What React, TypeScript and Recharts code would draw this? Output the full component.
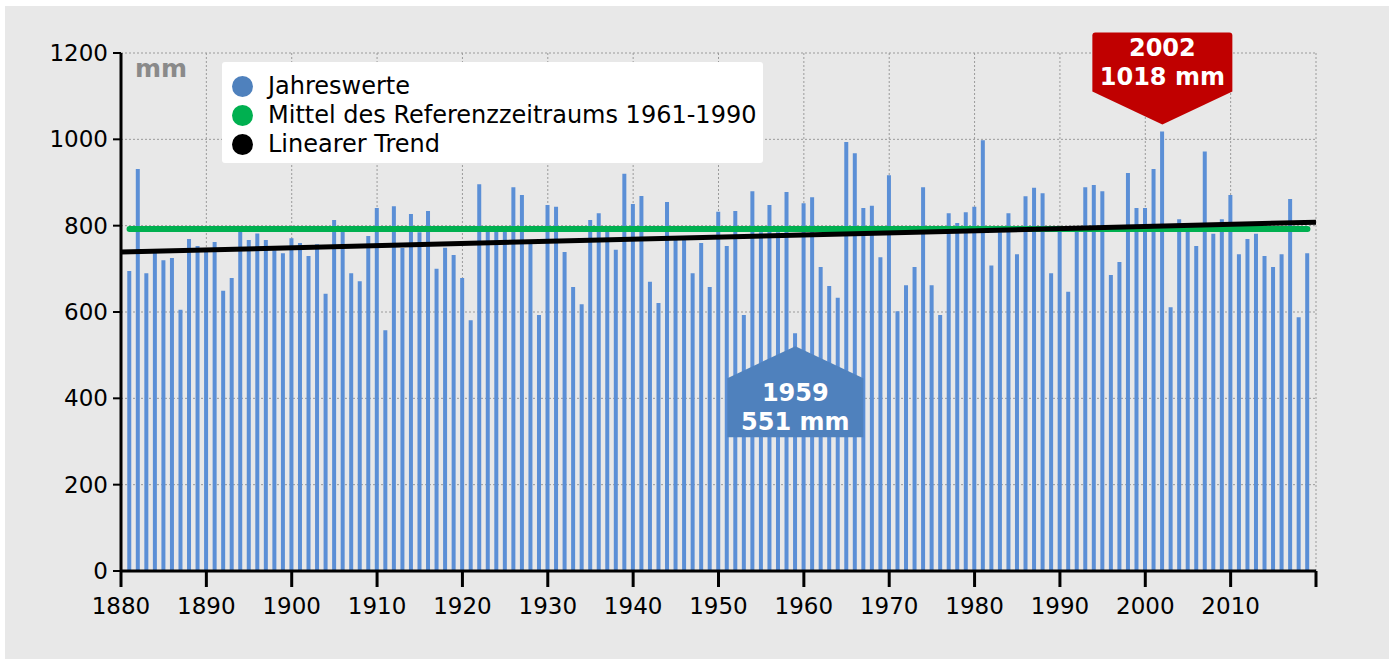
import {
  ComposedChart,
  Bar,
  Line,
  XAxis,
  YAxis,
  CartesianGrid,
  ReferenceLine,
  ReferenceDot,
} from 'recharts';

// yearly precipitation (mm), 1881-2019
const FIRST_YEAR = 1881;
const PRECIP = [
  695, 931, 690, 737, 720, 725, 605, 769, 753, 745,
  762, 649, 679, 787, 767, 782, 767, 743, 736, 771,
  760, 730, 757, 642, 813, 790, 690, 671, 776, 841,
  558, 845, 748, 827, 785, 834, 700, 749, 732, 679,
  581, 896, 787, 787, 787, 889, 871, 760, 593, 848,
  844, 739, 658, 618, 813, 829, 788, 744, 920, 850,
  869, 670, 621, 855, 767, 767, 690, 760, 658, 832,
  753, 834, 593, 880, 785, 848, 785, 878, 551, 852,
  866, 704, 660, 633, 994, 968, 841, 846, 727, 917,
  602, 662, 704, 889, 662, 593, 829, 806, 831, 844,
  998, 708, 785, 829, 734, 868, 888, 875, 690, 790,
  647, 790, 889, 894, 880, 686, 716, 922, 841, 841,
  931, 1018, 611, 815, 790, 753, 972, 781, 815, 871,
  734, 769, 781, 730, 704, 734, 862, 588, 736,
];
const YEARS = PRECIP.map((_, i) => FIRST_YEAR + i);

// mean of reference period 1961-1990
const REF_MEAN = 792;
// linear trend end points
const TREND_YEARS = [1880, 2020];
const TREND_VALUES = [739, 808];

const X_TICKS = [1880, 1890, 1900, 1910, 1920, 1930, 1940, 1950, 1960, 1970, 1980, 1990, 2000, 2010, 2020];
const Y_TICKS = [0, 200, 400, 600, 800, 1000, 1200];

// extremes
const MAX_YEAR = 2002;
const MAX_VALUE = 1018;
const MIN_YEAR = 1959;
const MIN_VALUE = 551;

const LEGEND = [
  { label: 'Jahreswerte', color: '#4f81bd' },
  { label: 'Mittel des Referenzzeitraums 1961-1990', color: '#00b050' },
  { label: 'Linearer Trend', color: '#000000' },
];

const data = YEARS.map((year, i) => ({ year, value: PRECIP[i], mean: REF_MEAN }));

const FONT = '"DejaVu Sans", sans-serif';

function MaxMarker(props: any) {
  const { cx, cy } = props;
  const w = 70;
  const path = `M${cx - w},${cy - 96} Q${cx - w},${cy - 99} ${cx - w + 3},${cy - 99} L${cx + w - 3},${cy - 99} Q${cx + w},${cy - 99} ${cx + w},${cy - 96} L${cx + w},${cy - 40} L${cx},${cy - 7} L${cx - w},${cy - 40} Z`;
  return (
    <g>
      <path d={path} fill="#c00000" />
      <text x={cx} y={cy - 76} textAnchor="middle" fill="#fff" fontWeight="bold" fontSize={24} fontFamily={FONT}>
        {MAX_YEAR}
      </text>
      <text x={cx} y={cy - 47} textAnchor="middle" fill="#fff" fontWeight="bold" fontSize={24} fontFamily={FONT}>
        {`${MAX_VALUE} mm`}
      </text>
    </g>
  );
}

function MinMarker(props: any) {
  const { cx, cy } = props;
  const w = 68;
  const path = `M${cx},${cy + 13} L${cx + w},${cy + 45} L${cx + w},${cy + 104} L${cx - w},${cy + 104} L${cx - w},${cy + 45} Z`;
  return (
    <g>
      <path d={path} fill="#4f81bd" />
      <text x={cx} y={cy + 68} textAnchor="middle" fill="#fff" fontWeight="bold" fontSize={24} fontFamily={FONT}>
        {MIN_YEAR}
      </text>
      <text x={cx} y={cy + 97} textAnchor="middle" fill="#fff" fontWeight="bold" fontSize={24} fontFamily={FONT}>
        {`${MIN_VALUE} mm`}
      </text>
    </g>
  );
}

export default function App() {
  return (
    <div style={{ position: 'absolute', left: 0, top: 0, width: 1395, height: 659, background: '#fff', fontFamily: FONT }}>
      <div style={{ position: 'absolute', left: 5, top: 6, width: 1384, height: 653, background: '#e8e8e8' }} />
      <div style={{ position: 'absolute', left: 0, top: 0 }}>
        <ComposedChart
          width={1395}
          height={659}
          data={data}
          margin={{ top: 53, right: 79, bottom: 48, left: 61 }}
        >
          <CartesianGrid stroke="#9a9a9a" strokeDasharray="2 2" strokeWidth={1} />
          <XAxis
            dataKey="year"
            type="number"
            domain={[1880, 2020]}
            ticks={X_TICKS}
            interval={0}
            height={40}
            axisLine={{ stroke: '#000', strokeWidth: 3 }}
            tickLine={{ stroke: '#000', strokeWidth: 3 }}
            tickSize={16}
            tickMargin={11}
            tick={{ fill: '#000', fontSize: 23, fontFamily: FONT }}
            tickFormatter={(v) => (v === 2020 ? '' : String(v))}
          />
          <XAxis
            xAxisId="top"
            orientation="top"
            type="number"
            domain={[1880, 2020]}
            height={0}
            tick={false}
            tickLine={false}
            axisLine={{ stroke: '#000', strokeWidth: 3 }}
          />
          <YAxis
            domain={[0, 1200]}
            ticks={Y_TICKS}
            interval={0}
            width={60}
            axisLine={{ stroke: '#000', strokeWidth: 3 }}
            tickLine={{ stroke: '#000', strokeWidth: 2 }}
            tickSize={8}
            tickMargin={5}
            tick={{ fill: '#000', fontSize: 23, fontFamily: FONT }}
          />
          <YAxis
            yAxisId="right"
            orientation="right"
            domain={[0, 1200]}
            width={0}
            tick={false}
            tickLine={false}
            axisLine={{ stroke: '#000', strokeWidth: 3 }}
          />
          <Bar dataKey="value" fill="#5b8fd6" barSize={4} isAnimationActive={false} />
          <Line
            dataKey="mean"
            stroke="#00b050"
            strokeWidth={6}
            strokeLinecap="round"
            dot={false}
            activeDot={false}
            isAnimationActive={false}
          />
          <ReferenceLine
            segment={[
              { x: TREND_YEARS[0], y: TREND_VALUES[0] },
              { x: TREND_YEARS[1], y: TREND_VALUES[1] },
            ]}
            stroke="#000"
            strokeWidth={5}
          />
          <ReferenceDot x={MAX_YEAR} y={MAX_VALUE} shape={MaxMarker} />
          <ReferenceDot x={MIN_YEAR} y={MIN_VALUE} shape={MinMarker} />
        </ComposedChart>
      </div>
      <div
        style={{
          position: 'absolute',
          left: 135,
          top: 54,
          fontSize: 25,
          fontWeight: 'bold',
          color: '#8a8a8a',
        }}
      >
        mm
      </div>
      <div
        style={{
          position: 'absolute',
          left: 222,
          top: 62,
          width: 541,
          height: 101,
          background: '#fff',
          borderRadius: 3,
          boxSizing: 'border-box',
          paddingTop: 10,
          paddingLeft: 10,
        }}
      >
        {LEGEND.map((item) => (
          <div key={item.label} style={{ display: 'flex', alignItems: 'center', height: 29 }}>
            <span
              style={{
                width: 21,
                height: 21,
                borderRadius: '50%',
                background: item.color,
                display: 'inline-block',
                marginRight: 15,
                flexShrink: 0,
              }}
            />
            <span style={{ fontSize: 24, color: '#000', whiteSpace: 'nowrap', lineHeight: '29px' }}>{item.label}</span>
          </div>
        ))}
      </div>
    </div>
  );
}
